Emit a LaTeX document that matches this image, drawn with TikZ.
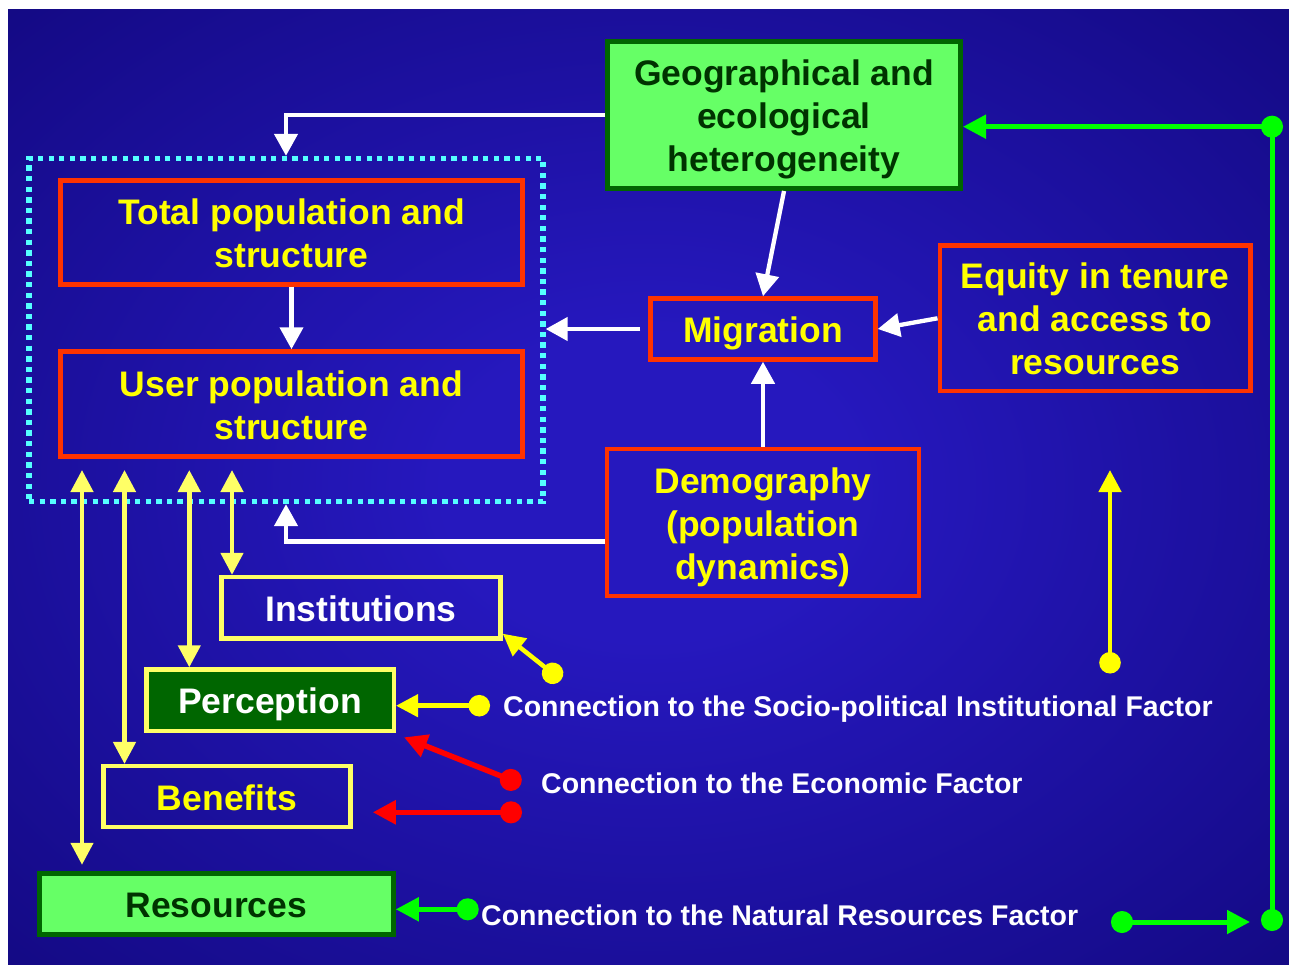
\documentclass[tikz,border=0pt]{standalone}
\usepackage{fontspec}
\setmainfont{Liberation Sans}
\usetikzlibrary{arrows.meta}
\definecolor{bgin}{RGB}{38,24,190}
\definecolor{bgout}{RGB}{10,2,102}
\definecolor{boxred}{HTML}{FF3300}
\definecolor{txtyel}{HTML}{FFFF00}
\definecolor{lineyel}{HTML}{FFFF66}
\definecolor{leaf}{HTML}{66FF66}
\definecolor{forest}{HTML}{006600}
\definecolor{deepgreen}{HTML}{003300}
\definecolor{dotcyan}{HTML}{55FFFF}
\definecolor{linkgreen}{HTML}{00FF00}
\definecolor{linkred}{HTML}{FF0000}
\pgfdeclareradialshading{bgglow}{\pgfpoint{0bp}{0bp}}{color(0bp)=(bgin); color(8bp)=(bgin); color(50bp)=(bgout); color(72bp)=(bgout)}
\tikzset{
  bigtxt/.style={font=\fontsize{35.5}{43}\selectfont\bfseries, align=center, inner sep=0pt, text height=31pt, text depth=4pt},
  twoline/.style={text height=74pt},
  threeline/.style={text height=117pt},
  redbox/.style={bigtxt, draw=boxred, line width=4.5pt, text=txtyel},
  yelbox/.style={bigtxt, draw=lineyel, line width=4.5pt},
  greenbox/.style={bigtxt, draw=forest, line width=5pt, fill=leaf, text=deepgreen},
  wire/.style={draw=white, line width=4.3pt, -{Triangle[length=22pt,width=23pt]}},
  ylink/.style={draw=lineyel, line width=4.5pt, {Triangle[length=22pt,width=22pt]}-{Triangle[length=22pt,width=22pt]}},
  ydot/.style={draw=txtyel, line width=4.5pt, {Circle[length=21.5pt,width=21.5pt]}-{Triangle[length=22pt,width=22pt]}},
  rdot/.style={draw=linkred, line width=5.5pt, {Circle[length=22pt,width=22pt]}-{Triangle[length=23pt,width=23pt]}},
  gdot/.style={draw=linkgreen, line width=5pt, {Circle[length=22pt,width=22pt]}-{Triangle[length=23pt,width=23pt]}},
  gwire/.style={draw=linkgreen, line width=5pt, -{Triangle[length=23pt,width=23pt]}},
  factor/.style={font=\fontsize{28.5}{34}\selectfont\bfseries, text=white, inner sep=0pt, anchor=base west}
}
\begin{document}
\begin{tikzpicture}[x=1pt,y=-1pt]
\useasboundingbox (0,0) rectangle (1289,965);
\fill[white] (0,0) rectangle (1289,965);
\shade[shading=bgglow] (8,10) rectangle (1289,965);

\node[draw=dotcyan, line width=5.3pt, dash pattern=on 5.3pt off 5.3pt, minimum width=514, minimum height=343, inner sep=0pt] (popgroup) at (286,330) {};
\node[greenbox, threeline, minimum width=353, minimum height=147] (geo) at (784,115) {Geographical and\\ecological\\heterogeneity};
\node[redbox, twoline, minimum width=462, minimum height=104] (total) at (291.5,232.5) {Total population and\\structure};
\node[redbox, twoline, minimum width=462, minimum height=105] (user) at (291.5,404) {User population and\\structure};
\node[redbox, minimum width=225, minimum height=61] (migr) at (763,329) {Migration};
\node[redbox, threeline, minimum width=310.5, minimum height=145.5] (equity) at (1095,318.3) {Equity in tenure\\and access to\\resources};
\node[redbox, threeline, minimum width=312, minimum height=147] (demo) at (763,522.5) {Demography\\(population\\dynamics)};
\node[yelbox, text=white, minimum width=279, minimum height=61.3] (inst) at (361,607.8) {Institutions};
\node[yelbox, text=white, fill=forest, minimum width=247.5, minimum height=61.5] (perc) at (270,700.3) {Perception};
\node[yelbox, text=txtyel, minimum width=247, minimum height=61] (ben) at (227,796.7) {Benefits};
\node[greenbox, minimum width=354, minimum height=61] (res) at (216.3,903.8) {Resources};

\node[factor] (socio) at (503,716) {Connection to the Socio-political Institutional Factor};
\node[factor] (econ) at (541,793) {Connection to the Economic Factor};
\node[factor] (natres) at (481,925) {Connection to the Natural Resources Factor};

\draw[wire] (geo.west) -| (popgroup.north);
\draw[wire] (geo.south) -- (migr.north);
\draw[wire] (total.south) -- (user.north);
\draw[wire] ([xshift=-8pt]migr.west) -- (popgroup.east |- migr.west);
\draw[wire] (equity.west) -- (migr.east);
\draw[wire] (demo.north) -- (migr.south);
\draw[wire] ([yshift=-19pt]demo.west) -| (popgroup.south);

\coordinate (upA) at (82,470);
\coordinate (upB) at (124.5,470);
\coordinate (upC) at (189.3,470);
\coordinate (upD) at (232,470);
\draw[ylink, shorten >=6pt] (upA) -- (upA |- res.north);
\draw[ylink] (upB) -- (upB |- ben.north);
\draw[ylink] (upC) -- (upC |- perc.north);
\draw[ylink] (upD) -- (upD |- inst.north);

\coordinate (idot) at (561,680);
\coordinate (pdot) at (490,705.7);
\coordinate (edotA) at (521,784);
\coordinate (edotB) at (522,812.3);
\coordinate (sdot) at (1110,673.5);
\coordinate (stip) at (1110,470);
\draw[ydot] (idot) -- ([yshift=7pt]inst.south east);
\draw[ydot] (pdot) -- (pdot -| perc.east);
\draw[ydot] (sdot) -- (stip);
\draw[rdot] (edotA) -- ([xshift=8pt,yshift=-4pt]perc.south east);
\draw[rdot, shorten >=20pt] (edotB) -- (edotB -| ben.east);

\coordinate (gdotA) at (478.7,909.3);
\coordinate (gtop) at (1272,126.7);
\coordinate (gbot) at (1272,920);
\coordinate (gdotB) at (1111,922);
\coordinate (gtip) at (1250,922);
\draw[gdot] (gdotA) -- (gdotA -| res.east);
\draw[gwire] (gtop) -- (gtop -| geo.east);
\draw[draw=linkgreen, line width=5pt, {Circle[length=22pt,width=22pt]}-{Circle[length=22pt,width=22pt]}] ([yshift=11pt]gtop) -- ([yshift=-11pt]gbot);
\draw[gdot] (gdotB) -- (gtip);
\end{tikzpicture}
\end{document}
